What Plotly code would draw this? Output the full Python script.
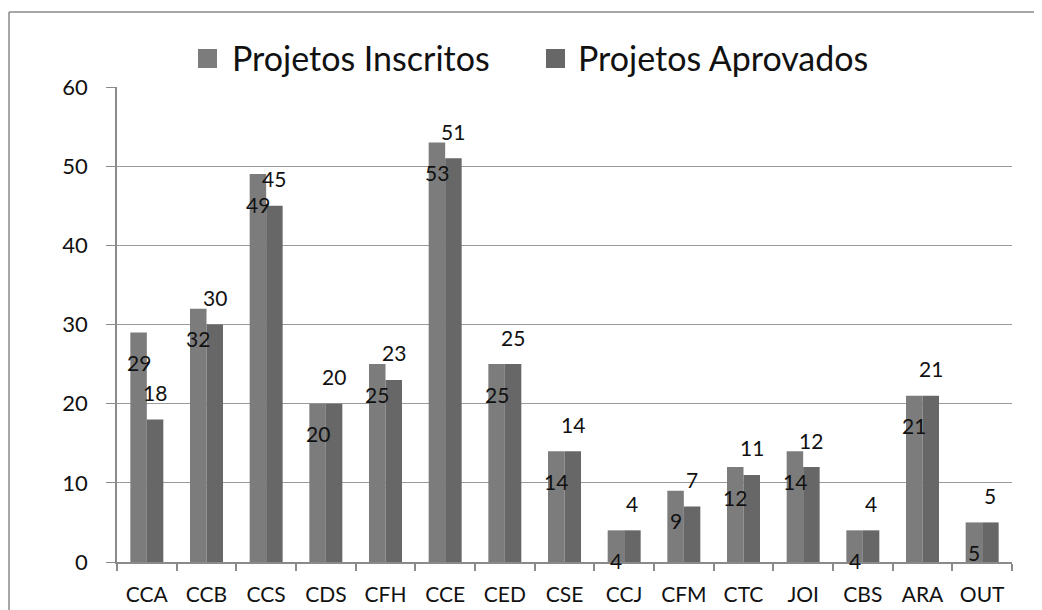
import plotly.graph_objects as go

categories = ["CCA", "CCB", "CCS", "CDS", "CFH", "CCE", "CED", "CSE",
              "CCJ", "CFM", "CTC", "JOI", "CBS", "ARA", "OUT"]
inscritos = [29, 32, 49, 20, 25, 53, 25, 14, 4, 9, 12, 14, 4, 21, 5]
aprovados = [18, 30, 45, 20, 23, 51, 25, 14, 4, 7, 11, 12, 4, 21, 5]
y_ticks = [0, 10, 20, 30, 40, 50, 60]
series_names = ["Projetos Inscritos", "Projetos Aprovados"]

PAGE_W, PAGE_H = 1042, 610
OFF = 8  # page body margin offset
W, H = PAGE_W - OFF, PAGE_H - OFF
# plot area in page pixels: x 117..1012, y 87..562
ML, MT = 117 - OFF, 87 - OFF
MR = W - (1012 - OFF)
MB = H - (562 - OFF)
plot_w = W - ML - MR
plot_h = H - MT - MB
bargap = 0.447
cat_px = plot_w / len(categories)
bar_px = cat_px * (1 - bargap) / 2

FONT = "Lato"
TXT = "#111111"
C_INS = "#7c7c7c"
C_APR = "#676767"
colors = [C_INS, C_APR]


def px_x(px):  # page px -> paper
    return (px - OFF - ML) / plot_w


def px_y(py):
    return (MT + plot_h - (py - OFF)) / plot_h


fig = go.Figure()
fig.add_trace(go.Bar(name=series_names[0], x=categories, y=inscritos,
                     marker=dict(color=C_INS, line=dict(width=0)), showlegend=False))
fig.add_trace(go.Bar(name=series_names[1], x=categories, y=aprovados,
                     marker=dict(color=C_APR, line=dict(width=0)), showlegend=False))

annotations = []
for c, v in zip(categories, inscritos):
    annotations.append(dict(x=c, y=v, xref="x", yref="y", text=str(v),
                            showarrow=False, xshift=-bar_px / 2, yshift=-30,
                            font=dict(family=FONT, size=21, color=TXT)))
for c, v in zip(categories, aprovados):
    annotations.append(dict(x=c, y=v, xref="x", yref="y", text=str(v),
                            showarrow=False, xshift=bar_px / 2, yshift=27,
                            font=dict(family=FONT, size=21, color=TXT)))

# outer chart frame: only left and top edges fall inside the picture
frame = dict(color="#8a8a8a", width=1.5)
shapes = [
    dict(type="line", xref="paper", yref="paper", layer="below",
         x0=px_x(9), x1=px_x(9), y0=px_y(PAGE_H), y1=px_y(12), line=frame),
    dict(type="line", xref="paper", yref="paper", layer="below",
         x0=px_x(9), x1=px_x(PAGE_W), y0=px_y(12), y1=px_y(12), line=frame),
]

# legend (squares + labels)
legend_sq_x = [198, 546]
legend_txt_x = [230, 576]
for name, col, sx, tx in zip(series_names, colors, legend_sq_x, legend_txt_x):
    shapes.append(dict(type="rect", xref="paper", yref="paper",
                       x0=px_x(sx), x1=px_x(sx + 19), y0=px_y(68), y1=px_y(49),
                       fillcolor=col, line=dict(width=0)))
    annotations.append(dict(x=px_x(tx), y=px_y(58), xref="paper", yref="paper",
                            text=name, showarrow=False, xanchor="left",
                            yanchor="middle",
                            font=dict(family=FONT, size=34, color=TXT)))

fig.update_layout(
    width=W, height=H,
    margin=dict(l=ML, r=MR, t=MT, b=MB, autoexpand=False),
    paper_bgcolor="white", plot_bgcolor="white",
    barmode="group", bargap=bargap, bargroupgap=0,
    font=dict(family=FONT, color=TXT),
    showlegend=False,
    xaxis=dict(showline=True, linecolor="#8a8a8a", linewidth=1.5,
               ticks="outside", tickson="boundaries", ticklen=7,
               tickcolor="#8a8a8a", tickwidth=1.5,
               tickfont=dict(family=FONT, size=21, color=TXT),
               ticklabelstandoff=13, showgrid=False),
    yaxis=dict(range=[0, 60], tickvals=y_ticks, showline=True,
               linecolor="#8a8a8a", linewidth=1.5,
               ticks="outside", ticklen=9, tickcolor="#8a8a8a", tickwidth=1,
               showgrid=True, gridcolor="#9a9a9a", gridwidth=1,
               tickfont=dict(family=FONT, size=22, color=TXT),
               ticklabelstandoff=14, zeroline=False),
    annotations=annotations,
    shapes=shapes,
)

fig.write_html(
    "out.html",
    post_script="document.documentElement.style.overflow='hidden';"
                "document.body.style.overflow='hidden';",
)
